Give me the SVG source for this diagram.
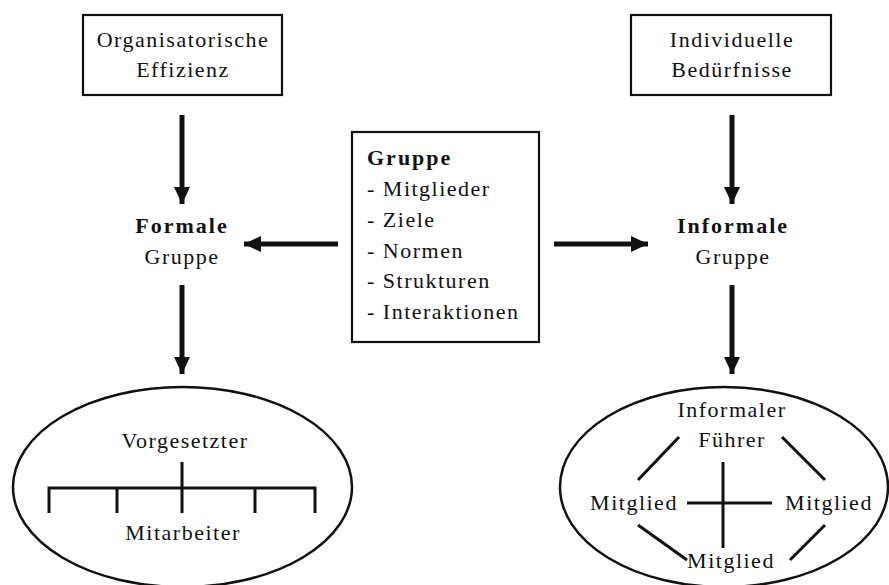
<svg xmlns="http://www.w3.org/2000/svg" width="889" height="585" viewBox="0 0 889 585">
  <style>
    text { font-family: 'Liberation Serif', 'DejaVu Serif', serif; font-size: 22px; fill: #111; letter-spacing: 1.5px; }
    .c { text-anchor: middle; }
    .b { font-weight: bold; letter-spacing: 2px; }
    .box { fill: #fff; stroke: #111; stroke-width: 2.2; }
    .ell { fill: none; stroke: #111; stroke-width: 2.5; }
    .ln { stroke: #111; stroke-width: 3; fill: none; }
    .arr { stroke: #111; stroke-width: 5; fill: none; marker-end: url(#head); }
  </style>
  <defs>
    <marker id="head" markerUnits="userSpaceOnUse" markerWidth="18" markerHeight="16" viewBox="0 0 18 16" refX="17" refY="8" orient="auto">
      <path d="M0,0 L17,8 L0,16 Z" fill="#111"/>
    </marker>
  </defs>

  <g id="connectors">
    <line class="arr" x1="182" y1="115" x2="182" y2="204"/>
    <line class="arr" x1="182" y1="285" x2="182" y2="374"/>
    <line class="arr" x1="732" y1="115" x2="732" y2="204"/>
    <line class="arr" x1="732" y1="285" x2="732" y2="374"/>
    <line class="arr" x1="338" y1="244" x2="244" y2="244"/>
    <line class="arr" x1="554" y1="244" x2="648" y2="244"/>
  </g>

  <g id="org-effizienz">
    <rect class="box" x="83" y="15" width="199" height="80"/>
    <text class="c" x="183" y="47" font-family="Liberation Serif">Organisatorische</text>
    <text class="c" x="183" y="77">Effizienz</text>
  </g>

  <g id="ind-beduerfnisse">
    <rect class="box" x="631" y="15" width="200" height="80"/>
    <text class="c" x="732" y="47">Individuelle</text>
    <text class="c" x="732" y="77">Bedürfnisse</text>
  </g>

  <g id="gruppe">
    <rect class="box" x="352" y="132" width="187" height="210"/>
    <text class="b" x="367" y="165">Gruppe</text>
    <text x="367" y="196">- Mitglieder</text>
    <text x="367" y="227">- Ziele</text>
    <text x="367" y="258">- Normen</text>
    <text x="367" y="288">- Strukturen</text>
    <text x="367" y="319">- Interaktionen</text>
  </g>

  <g id="formale-gruppe">
    <text class="c b" x="182" y="233">Formale</text>
    <text class="c" x="182" y="264">Gruppe</text>
  </g>

  <g id="informale-gruppe">
    <text class="c b" x="733" y="233">Informale</text>
    <text class="c" x="733" y="264">Gruppe</text>
  </g>

  <g id="formale-struktur">
    <ellipse class="ell" cx="182.5" cy="487" rx="169.5" ry="100"/>
    <text class="c" x="185" y="448">Vorgesetzter</text>
    <path class="ln" d="M182,462 V513 M49,513 V488 H315 V513 M117,488 V513 M255,488 V513"/>
    <text class="c" x="183" y="540">Mitarbeiter</text>
  </g>

  <g id="informale-struktur">
    <ellipse class="ell" cx="724" cy="487" rx="164" ry="100"/>
    <text class="c" x="732" y="417">Informaler</text>
    <text class="c" x="732" y="447">Führer</text>
    <text class="c" x="634" y="510">Mitglied</text>
    <text class="c" x="829" y="510">Mitglied</text>
    <text class="c" x="731" y="568">Mitglied</text>
    <path class="ln" d="M723,462 V548 M687,503 H772 M638,480 L679,437 M782,437 L825,480 M638,525 L687,560 M825,525 L790,560"/>
  </g>
</svg>
